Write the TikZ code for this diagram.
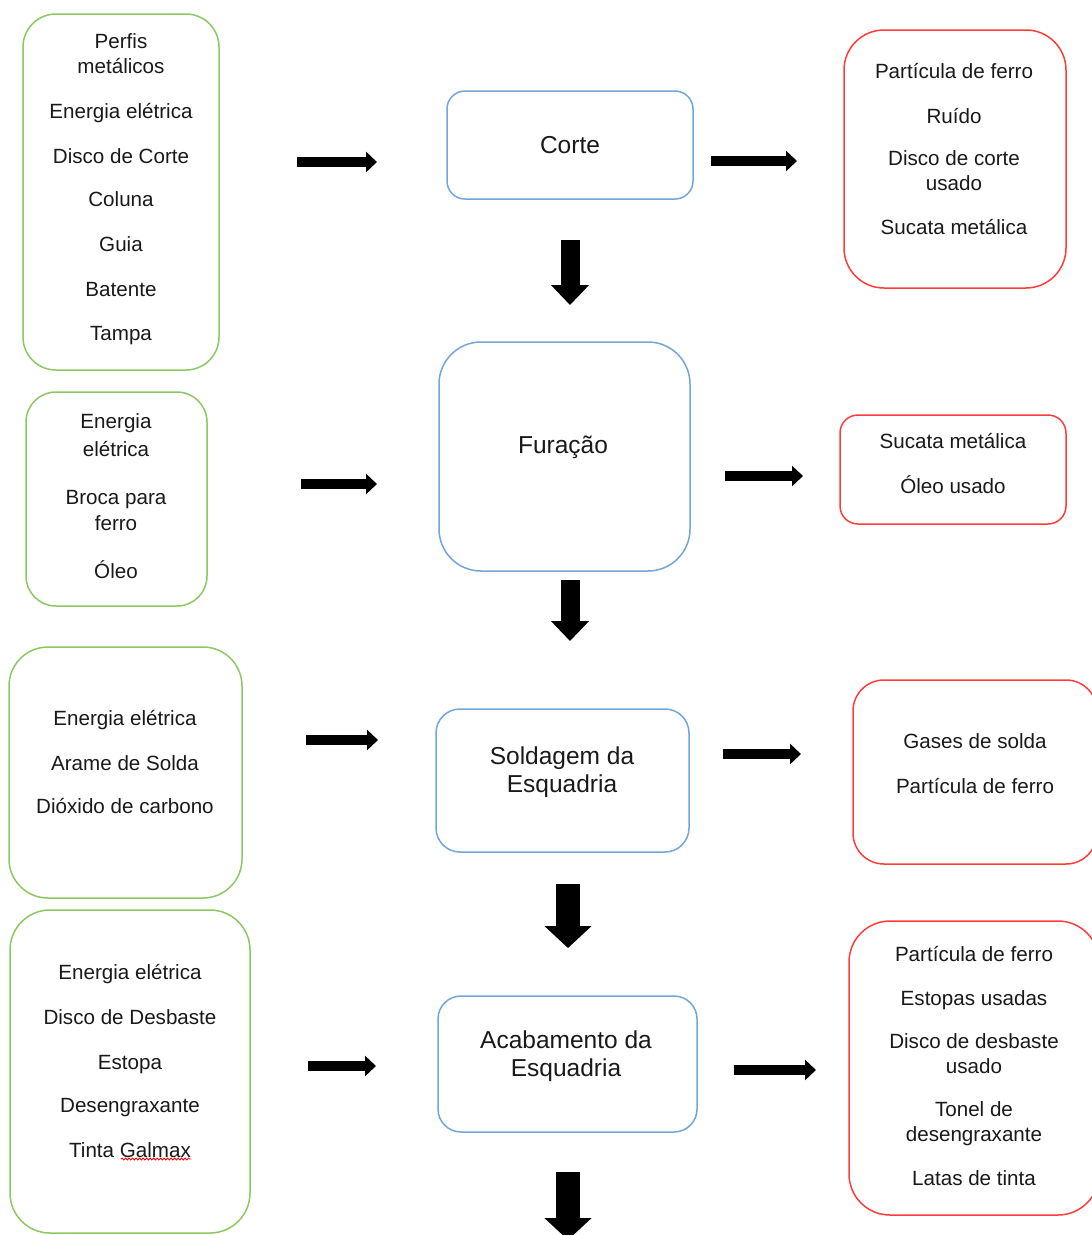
\documentclass[tikz,border=0pt]{standalone}
\usepackage{fontspec}
\setmainfont{Liberation Sans}
\usetikzlibrary{arrows.meta,decorations.pathmorphing}

\definecolor{ingreen}{RGB}{140,200,98}
\definecolor{procblue}{RGB}{112,166,220}
\definecolor{outred}{RGB}{255,60,60}

\tikzset{
  every node/.style={font=\fontsize{20.6}{25}\selectfont, text=black!90},
  inbox/.style={draw=ingreen, line width=1.5pt, inner sep=0pt},
  procbox/.style={draw=procblue, line width=1.5pt, inner sep=0pt},
  outbox/.style={draw=outred, line width=1.5pt, inner sep=0pt},
  itemtxt/.style={align=center, inner sep=0pt},
  titletxt/.style={align=center, inner sep=0pt, font=\fontsize{24.5}{28}\selectfont},
  hflow/.style={line width=10pt, -{Triangle[length=11pt,width=20pt]}},
  vflow/.style={line width=19pt, -{Triangle[length=20pt,width=37pt]}},
  bigvflow/.style={line width=24pt, -{Triangle[length=22pt,width=46pt]}},
}

\begin{document}
\begin{tikzpicture}[x=1pt, y=-1pt]
  \useasboundingbox (0,0) rectangle (1092,1235);
  \clip (0,0) rectangle (1092,1235);

  % entradas
  \node[inbox, rounded corners=33pt, minimum width=196pt, minimum height=356pt] (in1) at (121,192) {};
  \node[itemtxt] (in1t) at (121,189) {Perfis\\metálicos\\[20pt]Energia elétrica\\[20pt]Disco de Corte\\[18pt]Coluna\\[20pt]Guia\\[20pt]Batente\\[19pt]Tampa};
  \node[inbox, rounded corners=30pt, minimum width=181pt, minimum height=214pt] (in2) at (116.5,499) {};
  \node[itemtxt] (in2t) at (116,496) {Energia\\[3pt]elétrica\\[23pt]Broca para\\[1pt]ferro\\[23pt]Óleo};
  \node[inbox, rounded corners=39pt, minimum width=233pt, minimum height=251pt] (in3) at (125.5,772.5) {};
  \node[itemtxt] (in3t) at (125,762) {Energia elétrica\\[20pt]Arame de Solda\\[18pt]Dióxido de carbono};
  \node[inbox, rounded corners=40pt, minimum width=240pt, minimum height=323pt] (in4) at (130,1071.5) {};
  \node[itemtxt] (in4t) at (130,1061) {Energia elétrica\\[20pt]Disco de Desbaste\\[20pt]Estopa\\[18pt]Desengraxante\\[20pt]Tinta Galmax};
  \draw[red, line width=0.8pt, decorate, decoration={snake, amplitude=1pt, segment length=3.5pt}]
    (121,1159) -- (191,1159);

  % processos
  \node[procbox, rounded corners=18pt, minimum width=246pt, minimum height=108pt] (corte) at (570,145) {};
  \node[titletxt] (cortet) at (570,145) {Corte};
  \node[procbox, rounded corners=42pt, minimum width=251pt, minimum height=229pt] (furacao) at (564.5,456.5) {};
  \node[titletxt] (furacaot) at (563,447) {Furação};
  \node[procbox, rounded corners=24pt, minimum width=253pt, minimum height=143pt] (solda) at (562.5,780.5) {};
  \node[titletxt] (soldat) at (562,772) {Soldagem da\\Esquadria};
  \node[procbox, rounded corners=23pt, minimum width=259pt, minimum height=136pt] (acab) at (567.5,1064) {};
  \node[titletxt] (acabt) at (566,1056) {Acabamento da\\Esquadria};

  % saidas
  \node[outbox, rounded corners=40pt, minimum width=222pt, minimum height=258pt] (out1) at (955,159) {};
  \node[itemtxt] (out1t) at (954,149) {Partícula de ferro\\[20pt]Ruído\\[17pt]Disco de corte\\usado\\[19pt]Sucata metálica};
  \node[outbox, rounded corners=18pt, minimum width=226pt, minimum height=109pt] (out2) at (953,469.5) {};
  \node[itemtxt] (out2t) at (953,464) {Sucata metálica\\[20pt]Óleo usado};
  \node[outbox, rounded corners=31pt, minimum width=244pt, minimum height=184pt] (out3) at (975,772) {};
  \node[itemtxt] (out3t) at (975,764) {Gases de solda\\[20pt]Partícula de ferro};
  \node[outbox, rounded corners=41pt, minimum width=250pt, minimum height=294pt] (out4) at (974,1068) {};
  \node[itemtxt] (out4t) at (974,1066) {Partícula de ferro\\[20pt]Estopas usadas\\[18pt]Disco de desbaste\\usado\\[18pt]Tonel de\\desengraxante\\[19pt]Latas de tinta};

  % setas de entrada
  \coordinate (ia1) at (297,162);  \coordinate (ib1) at (377,162);
  \coordinate (ia2) at (301,484);  \coordinate (ib2) at (377,484);
  \coordinate (ia3) at (306,740);  \coordinate (ib3) at (378,740);
  \coordinate (ia4) at (308,1066); \coordinate (ib4) at (376,1066);
  \draw[hflow] (ia1) -- (ib1);
  \draw[hflow] (ia2) -- (ib2);
  \draw[hflow] (ia3) -- (ib3);
  \draw[hflow] (ia4) -- (ib4);

  % setas de saida
  \coordinate (oa1) at (711,161);  \coordinate (ob1) at (797,161);
  \coordinate (oa2) at (725,476);  \coordinate (ob2) at (803,476);
  \coordinate (oa3) at (723,754);  \coordinate (ob3) at (801,754);
  \coordinate (oa4) at (734,1070); \coordinate (ob4) at (816,1070);
  \draw[hflow] (oa1) -- (ob1);
  \draw[hflow] (oa2) -- (ob2);
  \draw[hflow] (oa3) -- (ob3);
  \draw[hflow] (oa4) -- (ob4);

  % setas entre processos
  \coordinate (va1) at (570,240);  \coordinate (vb1) at (570,305);
  \coordinate (va2) at (570,580);  \coordinate (vb2) at (570,641);
  \coordinate (va3) at (568,884);  \coordinate (vb3) at (568,948);
  \coordinate (va4) at (568,1172); \coordinate (vb4) at (568,1240);
  \draw[vflow] (va1) -- (vb1);
  \draw[vflow] (va2) -- (vb2);
  \draw[bigvflow] (va3) -- (vb3);
  \draw[bigvflow] (va4) -- (vb4);
\end{tikzpicture}
\end{document}
